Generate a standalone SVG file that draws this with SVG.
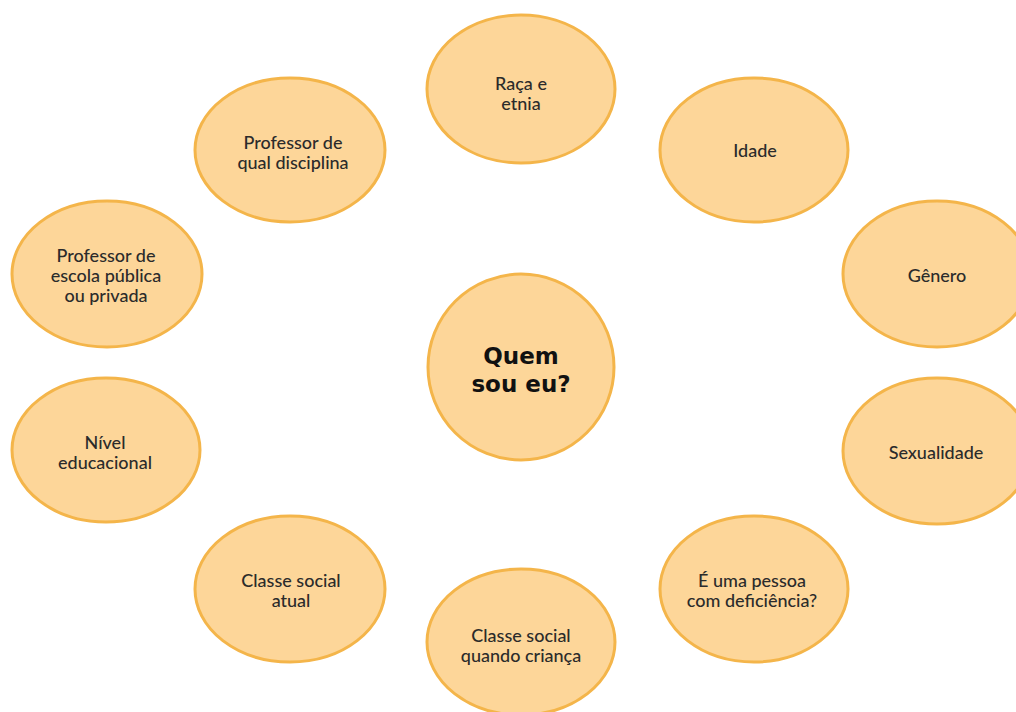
<svg xmlns="http://www.w3.org/2000/svg" width="1016" height="712" viewBox="0 0 1016 712">
<style>
.n{fill:#FDD699;stroke:#F4B54A;stroke-width:3}
.t{font-family:Lato,"Open Sans",sans-serif;font-size:18px;fill:#2b2b2b;text-anchor:middle;font-weight:500}
.c{font-family:"DejaVu Sans",Lato,sans-serif;font-size:23px;font-weight:bold;fill:#111;text-anchor:middle}
</style>
<rect width="1016" height="712" fill="#ffffff"/>
<g id="connectors"></g>
<g id="center"><circle class="n" cx="521" cy="367" r="93"/><text class="c" x="521" y="364">Quem</text><text class="c" x="521" y="392">sou eu?</text></g>
<g id="raca"><ellipse class="n" cx="521" cy="89" rx="94" ry="74"/><text class="t" x="521" y="90">Raça e</text><text class="t" x="521" y="110">etnia</text></g>
<g id="disciplina"><ellipse class="n" cx="290" cy="150" rx="95" ry="72"/><text class="t" x="293" y="149">Professor de</text><text class="t" x="293" y="169">qual disciplina</text></g>
<g id="idade"><ellipse class="n" cx="754" cy="150" rx="94" ry="72"/><text class="t" x="755" y="157">Idade</text></g>
<g id="escola"><ellipse class="n" cx="107" cy="274" rx="95" ry="73"/><text class="t" x="106" y="262">Professor de</text><text class="t" x="106" y="282">escola pública</text><text class="t" x="106" y="302">ou privada</text></g>
<g id="genero"><ellipse class="n" cx="937" cy="274" rx="94" ry="73"/><text class="t" x="937" y="282">Gênero</text></g>
<g id="nivel"><ellipse class="n" cx="106" cy="450" rx="94" ry="72"/><text class="t" x="105" y="449">Nível</text><text class="t" x="105" y="469">educacional</text></g>
<g id="sexualidade"><ellipse class="n" cx="937" cy="451" rx="94" ry="73"/><text class="t" x="936" y="459">Sexualidade</text></g>
<g id="classeatual"><ellipse class="n" cx="290" cy="589" rx="95" ry="73"/><text class="t" x="291" y="587">Classe social</text><text class="t" x="291" y="607">atual</text></g>
<g id="deficiencia"><ellipse class="n" cx="754" cy="589" rx="94" ry="73"/><text class="t" x="752" y="587">É uma pessoa</text><text class="t" x="752" y="607">com deficiência?</text></g>
<g id="classecrianca"><ellipse class="n" cx="521" cy="642" rx="94" ry="73"/><text class="t" x="521" y="642">Classe social</text><text class="t" x="521" y="662">quando criança</text></g>
</svg>
